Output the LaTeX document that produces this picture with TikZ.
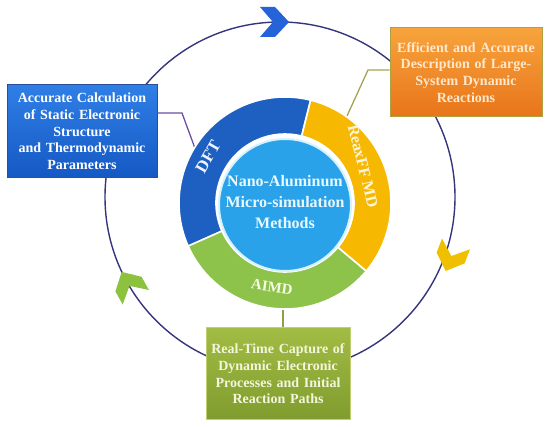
\documentclass[tikz,border=0pt]{standalone}
\usepackage{fontspec}
\setmainfont{Liberation Serif}
\definecolor{cycline}{HTML}{34357A}
\definecolor{bbtop}{HTML}{2F7FE6}
\definecolor{bbbot}{HTML}{1558C4}
\definecolor{bbdraw}{HTML}{2A4F9A}
\definecolor{obtop}{HTML}{F7A43C}
\definecolor{obbot}{HTML}{E8741A}
\definecolor{obdraw}{HTML}{B0A040}
\definecolor{gbtop}{HTML}{A2BC44}
\definecolor{gbbot}{HTML}{7F9C2E}
\definecolor{gbdraw}{HTML}{C0D070}
\definecolor{otext}{HTML}{FFE8CC}
\definecolor{gtext}{HTML}{F4F6DC}
\definecolor{dftc}{HTML}{1E60C2}
\definecolor{reaxc}{HTML}{F6B800}
\definecolor{aimdc}{HTML}{8DC24B}
\definecolor{innerc}{HTML}{2AA2EA}
\definecolor{innerb}{HTML}{D6F2FF}
\definecolor{dftt}{HTML}{EEF4FF}
\definecolor{reaxt}{HTML}{FFF4DC}
\definecolor{aimdt}{HTML}{F6FBE8}
\definecolor{centt}{HTML}{E8F8FF}
\definecolor{conna}{HTML}{6C4FA0}
\definecolor{connb}{HTML}{A4A450}
\definecolor{connc}{HTML}{8F9E48}
\definecolor{chevb}{HTML}{2563D9}
\definecolor{chevy}{HTML}{F0C000}
\definecolor{chevg}{HTML}{8DC23F}
\tikzset{
  cyc/.style={draw=cycline, line width=1.4pt},
  ringseg/.style={fill=#1, draw=white, line width=1.6pt},
  infobox/.style={rectangle, draw=#1, line width=1pt, inner sep=2pt, align=center,
    font=\fontsize{14}{16.7}\selectfont\bfseries},
  lbl/.style={font=\fontsize{16}{18}\selectfont\bfseries, inner sep=0pt},
  centline/.style={font=\fontsize{16}{21}\selectfont\bfseries, text=centt, inner sep=0pt},
  conn/.style={line width=1.3pt},
  chevshape/.style={fill=#1},
}
\begin{document}
\begin{tikzpicture}[x=1pt,y=1pt]
\useasboundingbox (0,0) rectangle (550,427);
% big cycle
\draw[cyc] (280,230) circle[radius=175];
% connector anchor points
\coordinate (c1a) at (182,314);
\coordinate (c1b) at (196,276);
\coordinate (c2a) at (368,357);
\coordinate (c2b) at (347,311);
\coordinate (c3) at (283,130);
% boxes
\node[infobox=bbdraw, top color=bbtop, bottom color=bbbot, text=white,
  minimum width=150pt, minimum height=93pt, text width=146pt] (bbox) at (82,295.5)
  {Accurate Calculation\\of Static Electronic\\Structure\\and Thermodynamic\\Parameters};
\node[infobox=obdraw, top color=obtop, bottom color=obbot, text=otext,
  minimum width=152pt, minimum height=89pt, text width=148pt] (obox) at (466,354.5)
  {Efficient and Accurate\\Description of Large-\\System Dynamic\\Reactions};
\node[infobox=gbdraw, top color=gbtop, bottom color=gbbot, text=gtext,
  minimum width=142pt, minimum height=92pt, text width=140pt] (gbox) at (278,53)
  {Real-Time Capture of\\Dynamic Electronic\\Processes and Initial\\Reaction Paths};
% connectors
\draw[conn, draw=conna] (bbox.east |- c1a) -- (c1a) -- (c1b);
\draw[conn, draw=connb] (obox.west |- c2a) -- (c2a) -- (c2b);
\draw[conn, draw=connc] (gbox.north -| c3) -- (c3);
% ring segments
\begin{scope}[shift={(285,224)}]
\path[ringseg=dftc] (76:106) arc[start angle=76, end angle=204, radius=106]
  -- (204:69) arc[start angle=204, end angle=76, radius=69] -- cycle;
\path[ringseg=reaxc] (-40:106) arc[start angle=-40, end angle=76, radius=106]
  -- (76:69) arc[start angle=76, end angle=-40, radius=69] -- cycle;
\path[ringseg=aimdc] (204:106) arc[start angle=204, end angle=320, radius=106]
  -- (320:69) arc[start angle=320, end angle=204, radius=69] -- cycle;
\end{scope}
% inner circle
\node[circle, fill=innerc, draw=innerb, line width=2pt, minimum size=132pt, inner sep=0pt] (inner) at (285,222) {};
\node[centline] (cent1) at (285,246) {Nano-Aluminum};
\node[centline] (cent2) at (285,225) {Micro-simulation};
\node[centline] (cent3) at (285,204) {Methods};
% ring labels
\node[lbl, text=dftt, rotate=60, font=\fontsize{17}{18}\selectfont\bfseries] (dftl) at (208,270) {DFT};
\node[lbl, text=reaxt, rotate=-76] (reaxl) at (363,261) {ReaxFF MD};
\node[lbl, text=aimdt, rotate=-8, font=\fontsize{15}{18}\selectfont\bfseries] (aimdl) at (272,140) {AIMD};
% chevrons
\fill[chevshape=chevb, shift={(274,405)}, rotate=0]
  (-14,15) -- (1,15) -- (15,0) -- (1,-15) -- (-14,-15) -- (-1,0) -- cycle;
\fill[chevshape=chevy, shift={(451,170)}, rotate=-111]
  (-14,15) -- (1,15) -- (15,0) -- (1,-15) -- (-14,-15) -- (-1,0) -- cycle;
\fill[chevshape=chevg, shift={(129,142)}, rotate=119]
  (-14,15) -- (1,15) -- (15,0) -- (1,-15) -- (-14,-15) -- (-1,0) -- cycle;
\end{tikzpicture}
\end{document}
